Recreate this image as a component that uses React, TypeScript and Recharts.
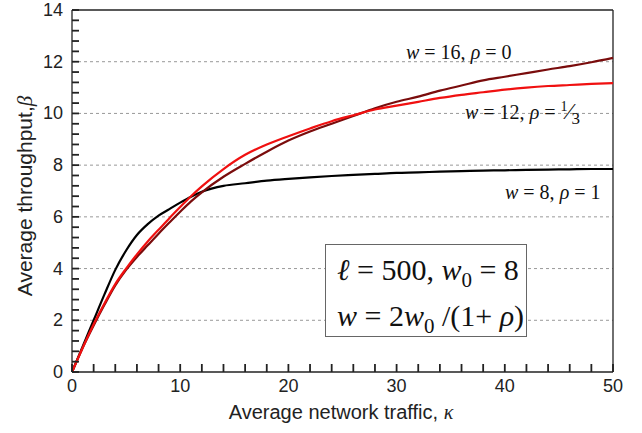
import { LineChart, Line, XAxis, YAxis, ReferenceLine } from 'recharts'

// average network traffic (kappa)
const kappa = [0, 1, 2, 3, 4, 5, 6, 7, 8, 9, 10, 11, 12, 14, 16, 18, 20, 22, 24, 26, 28, 30, 32, 34, 36, 38, 40, 42, 44, 46, 48, 50]

// w = 8, rho = 1
const w8 = [0, 1.0, 2.0, 3.0, 3.95, 4.7, 5.3, 5.72, 6.05, 6.3, 6.55, 6.78, 6.97, 7.2, 7.3, 7.4, 7.47, 7.53, 7.58, 7.62, 7.66, 7.7, 7.72, 7.75, 7.77, 7.79, 7.8, 7.82, 7.83, 7.84, 7.85, 7.85]
// w = 12, rho = 1/3
const w12 = [0, 0.95, 1.85, 2.65, 3.4, 4.0, 4.55, 5.05, 5.5, 5.95, 6.38, 6.8, 7.18, 7.85, 8.4, 8.8, 9.12, 9.42, 9.7, 9.93, 10.15, 10.3, 10.45, 10.6, 10.72, 10.82, 10.92, 11.0, 11.06, 11.1, 11.14, 11.17]
// w = 16, rho = 0
const w16 = [0, 0.95, 1.8, 2.6, 3.35, 3.95, 4.45, 4.9, 5.35, 5.78, 6.2, 6.6, 6.95, 7.55, 8.05, 8.52, 8.95, 9.3, 9.6, 9.9, 10.2, 10.45, 10.65, 10.88, 11.08, 11.28, 11.42, 11.56, 11.7, 11.83, 11.98, 12.15]

const xMajor = [0, 10, 20, 30, 40, 50]
const yMajor = [0, 2, 4, 6, 8, 10, 12, 14]
const gridLines = [2, 4, 6, 8, 10, 12]

// minor ticks every 2 on x, every 0.4 on y
const xTicks = Array.from({ length: 26 }, (_, i) => i * 2)
const yTicks = Array.from({ length: 36 }, (_, i) => Math.round(i * 4) / 10)

const data = kappa.map((k, i) => ({ k, w8: w8[i], w12: w12[i], w16: w16[i] }))

const AXIS = '#222'
const sans = 'Arial, "Liberation Sans", sans-serif'
const serif = '"Times New Roman", "Liberation Serif", serif'

// labels only on the major ticks, placed at fixed offsets from the axes
const XTick = (props: any) => {
  const { x, payload } = props
  if (!xMajor.includes(payload.value)) return <g />
  return (
    <text x={x} y={392} textAnchor="middle" fontSize={18} fontFamily={sans} fill="#222">
      {payload.value}
    </text>
  )
}

const YTick = (props: any) => {
  const { y, payload } = props
  if (!yMajor.includes(payload.value)) return <g />
  return (
    <text x={63} y={y + 6} textAnchor="end" fontSize={18} fontFamily={sans} fill="#222">
      {payload.value}
    </text>
  )
}

const it = { fontStyle: 'italic' as const }

export default function App() {
  return (
    <div style={{ position: 'absolute', left: 0, top: 0, width: 642, height: 433, background: '#fff' }}>
      <LineChart width={642} height={433} data={data} margin={{ top: 10, right: 29, left: 0, bottom: 0 }}>
        {gridLines.map((v) => (
          <ReferenceLine key={v} y={v} stroke="#999" strokeDasharray="3 3" strokeWidth={1} />
        ))}
        <ReferenceLine y={14} stroke={AXIS} strokeWidth={1.3} />
        <ReferenceLine x={50} stroke={AXIS} strokeWidth={1.3} />
        <XAxis
          dataKey="k"
          type="number"
          domain={[0, 50]}
          ticks={xTicks}
          interval={0}
          height={61}
          tickLine={{ stroke: AXIS, strokeWidth: 1.8 }}
          tickSize={-8}
          tick={<XTick />}
          axisLine={{ stroke: AXIS, strokeWidth: 1.3 }}
          label={{
            content: () => (
              <text x={341} y={419} textAnchor="middle" fontSize={20} fontFamily={sans} fill="#222">
                Average network traffic, <tspan fontFamily={serif} fontStyle="italic">κ</tspan>
              </text>
            ),
          }}
        />
        <YAxis
          type="number"
          domain={[0, 14]}
          ticks={yTicks}
          interval={0}
          width={72}
          tickLine={{ stroke: AXIS, strokeWidth: 1.8 }}
          tickSize={-7}
          tick={<YTick />}
          axisLine={{ stroke: AXIS, strokeWidth: 1.3 }}
          label={{
            content: () => (
              <text
                x={0}
                y={0}
                transform="translate(32,196) rotate(-90)"
                textAnchor="middle"
                fontSize={21}
                fontFamily={sans}
                fill="#222"
              >
                Average throughput,<tspan fontFamily={serif} fontStyle="italic">β</tspan>
              </text>
            ),
          }}
        />
        <Line type="monotone" dataKey="w8" stroke="#000" strokeWidth={2.2} dot={false} isAnimationActive={false} />
        <Line type="monotone" dataKey="w16" stroke="#7a0c0c" strokeWidth={2.2} dot={false} isAnimationActive={false} />
        <Line type="monotone" dataKey="w12" stroke="#f01010" strokeWidth={2.2} dot={false} isAnimationActive={false} />
      </LineChart>

      <div style={{ position: 'absolute', left: 406, top: 41, fontFamily: serif, fontSize: 20, whiteSpace: 'nowrap', color: '#111' }}>
        <span style={it}>w</span> = 16, <span style={it}>ρ</span> = 0
      </div>
      <div style={{ position: 'absolute', left: 465, top: 101, fontFamily: serif, fontSize: 20, whiteSpace: 'nowrap', color: '#111' }}>
        <span style={it}>w</span> = 12, <span style={it}>ρ</span> ={' '}
        <sup style={{ fontSize: 14, lineHeight: 0 }}>1</sup>
        <span style={{ fontSize: 24, lineHeight: 0 }}>⁄</span>
        <sub style={{ fontSize: 17, lineHeight: 0 }}>3</sub>
      </div>
      <div style={{ position: 'absolute', left: 505, top: 181, fontFamily: serif, fontSize: 20, whiteSpace: 'nowrap', color: '#111' }}>
        <span style={it}>w</span> = 8, <span style={it}>ρ</span> = 1
      </div>

      <div
        style={{
          position: 'absolute',
          left: 325,
          top: 244,
          width: 202,
          height: 93,
          boxSizing: 'border-box',
          border: '1.5px solid #666',
          background: '#fff',
          fontFamily: serif,
          fontSize: 30,
          color: '#111',
          whiteSpace: 'nowrap',
          paddingLeft: 11,
          paddingTop: 2,
          lineHeight: '46px',
        }}
      >
        <div>
          <span style={it}>ℓ</span> = 500, <span style={it}>w</span>
          <sub style={{ fontSize: 21, lineHeight: 0 }}>0</sub> = 8
        </div>
        <div>
          <span style={it}>w</span> = 2<span style={it}>w</span>
          <sub style={{ fontSize: 21, lineHeight: 0 }}>0</sub> /(1+ <span style={it}>ρ</span>)
        </div>
      </div>
    </div>
  )
}
